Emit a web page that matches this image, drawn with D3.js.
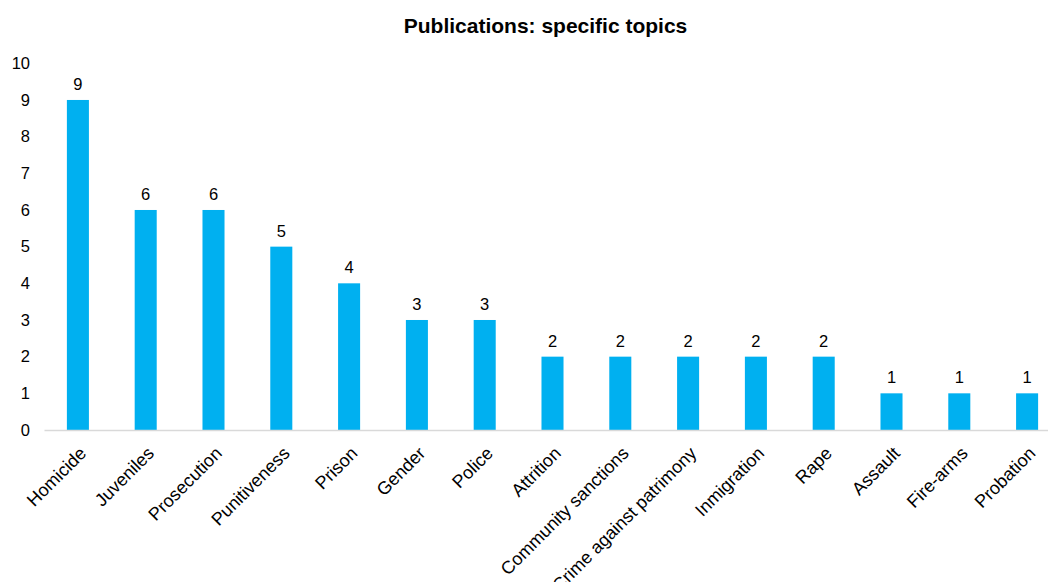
<!DOCTYPE html>
<html>
<head>
<meta charset="utf-8">
<script src="https://cdn.jsdelivr.net/npm/d3@7"></script>
<style>
  body { margin: 0; background: #fff; }
  svg { display: block; font-family: "Liberation Sans", Arial, sans-serif; }
</style>
</head>
<body>
<svg id="chart" width="1048" height="582"></svg>
<script>
const categories = ["Homicide", "Juveniles", "Prosecution", "Punitiveness", "Prison", "Gender", "Police",
  "Attrition", "Community sanctions", "Crime against patrimony", "Inmigration", "Rape", "Assault", "Fire-arms", "Probation"];
const counts = [9, 6, 6, 5, 4, 3, 3, 2, 2, 2, 2, 2, 1, 1, 1];
const yTicks = [0, 1, 2, 3, 4, 5, 6, 7, 8, 9, 10];
const title = "Publications: specific topics";

const svg = d3.select("#chart");
const plotLeft = 44, plotRight = 1061, plotTop = 63.3, plotBottom = 430;

const x = d3.scaleBand().domain(categories).range([plotLeft, plotRight]).paddingInner(0.675).paddingOuter(0.3375);
const y = d3.scaleLinear().domain([0, 10]).range([plotBottom, plotTop]);

svg.append("text")
  .attr("x", 545.5).attr("y", 32.5)
  .attr("text-anchor", "middle")
  .attr("font-size", 21).attr("font-weight", "bold").attr("fill", "#000")
  .text(title);

// y axis labels (no axis line)
svg.append("g").selectAll("text").data(yTicks).join("text")
  .attr("x", 30).attr("y", d => y(d))
  .attr("dy", "0.35em")
  .attr("text-anchor", "end")
  .attr("font-size", 16.5).attr("fill", "#000")
  .text(d => d);

// bars
svg.append("g").selectAll("rect").data(counts).join("rect")
  .attr("x", (d, i) => x(categories[i]))
  .attr("width", x.bandwidth())
  .attr("y", d => y(d))
  .attr("height", d => y(0) - y(d))
  .attr("fill", "#00B0F0");

// value labels
svg.append("g").selectAll("text").data(counts).join("text")
  .attr("x", (d, i) => x(categories[i]) + x.bandwidth() / 2)
  .attr("y", d => y(d) - 10)
  .attr("text-anchor", "middle")
  .attr("font-size", 16.5).attr("fill", "#000")
  .text(d => d);

// category axis
const xAxis = svg.append("g").attr("transform", `translate(0,${plotBottom})`)
  .call(d3.axisBottom(x).tickSize(0).tickSizeOuter(0));
xAxis.select(".domain").attr("stroke", "#d9d9d9").attr("stroke-width", 1.5);
xAxis.selectAll("text")
  .attr("font-size", 18).attr("fill", "#000")
  .attr("font-family", "Liberation Sans, Arial, sans-serif")
  .attr("text-anchor", "end")
  .attr("dy", null).attr("y", 0)
  .attr("transform", "translate(9.5,24.5) rotate(-45)");
</script>
</body>
</html>
